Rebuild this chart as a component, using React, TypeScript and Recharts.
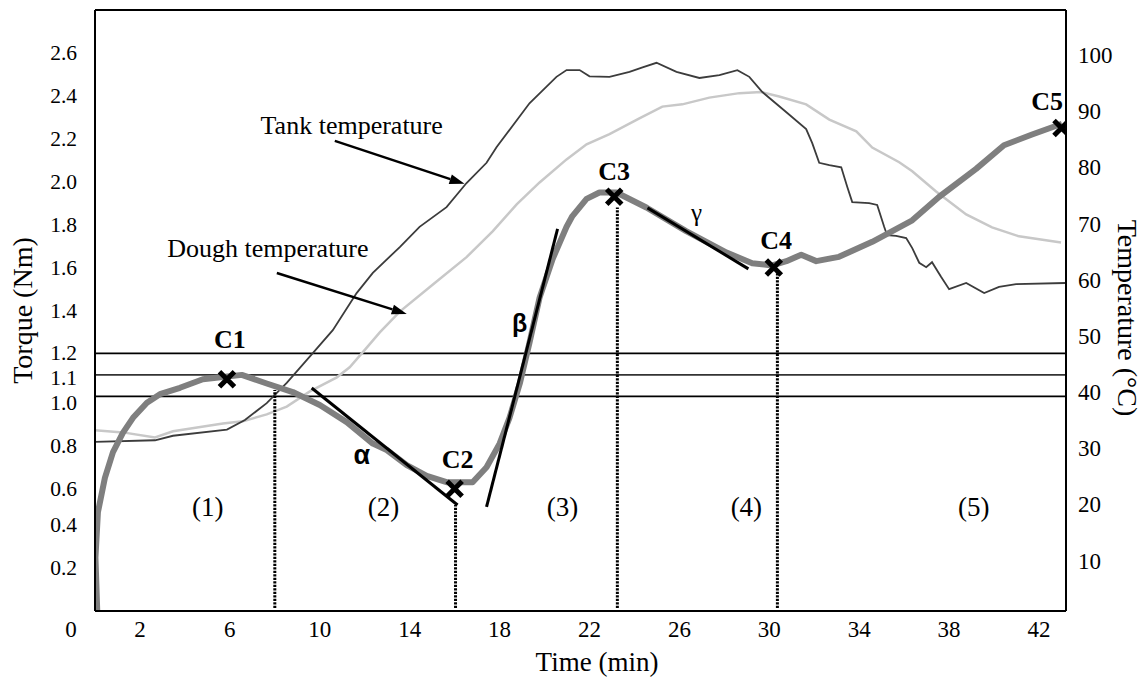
import React from "react";
import {
  ComposedChart,
  Line,
  Scatter,
  XAxis,
  YAxis,
  ReferenceLine,
  ReferenceDot,
} from "recharts";

const serif = '"Liberation Serif", "Times New Roman", serif';
const sans = '"Liberation Sans", Arial, sans-serif';

// torque curve (min, Nm)
const torqueTime = [
  0.1, 0.02, 0.13, 0.44, 0.8, 1.24, 1.69, 2.31, 2.89, 3.78, 4.8, 5.69, 6.53,
  7.64, 8.8, 10.0, 11.2, 12.36, 12.98, 13.87, 14.76, 15.64, 16.2, 16.8, 17.42,
  18.0, 18.44, 18.9, 19.33, 19.78, 20.36, 20.98, 21.24, 21.87, 22.44, 23.2,
  24.53, 26.3, 28.1, 29.24, 30.13, 30.76, 31.42, 32.09, 33.1, 34.58, 36.36,
  37.56, 39.2, 40.44, 41.69, 43.02,
];
const torqueNm = [
  0, 0.25, 0.46, 0.62, 0.74, 0.83, 0.9, 0.97, 1.01, 1.04, 1.08, 1.09, 1.1,
  1.06, 1.02, 0.96, 0.88, 0.78, 0.75, 0.68, 0.63, 0.6, 0.6, 0.6, 0.67, 0.78,
  0.9, 1.06, 1.25, 1.46, 1.64, 1.79, 1.84, 1.92, 1.95, 1.95, 1.88, 1.77, 1.67,
  1.62, 1.61, 1.63, 1.66, 1.63, 1.65, 1.72, 1.82, 1.93, 2.06, 2.17, 2.22, 2.27,
];

// tank temperature (min, °C)
const tankTime = [
  0, 2.67, 3.47, 5.87, 6.67, 7.64, 8.53, 9.69, 10.58, 11.64, 12.36, 13.56,
  14.44, 15.64, 16.53, 17.42, 17.87, 19.33, 20.53, 20.98, 21.56, 22.0, 22.89,
  23.78, 24.36, 24.98, 25.87, 26.89, 27.78, 28.58, 29.11, 29.69, 30.76, 31.64,
  31.91, 32.22, 32.67, 33.2, 33.47, 33.69, 34.44, 34.8, 35.11, 35.24, 35.64,
  36.09, 36.36, 36.67, 36.98, 37.24, 37.64, 38.0, 38.76, 39.56, 40.22, 40.98,
  43.16,
];
const tankTemp = [
  31.1, 31.4, 32.2, 33.3, 35.0, 38.0, 41.6, 46.9, 51.0, 57.6, 61.2, 65.8, 69.4,
  72.9, 77.2, 80.8, 83.6, 91.4, 96.1, 97.3, 97.3, 96.2, 96.1, 97.0, 97.8, 98.6,
  97.0, 95.9, 96.4, 97.3, 96.1, 93.4, 89.8, 86.8, 84.3, 80.8, 80.4, 80.0, 76.5,
  73.8, 73.6, 73.3, 69.4, 67.9, 67.8, 67.4, 65.6, 63.0, 62.2, 63.1, 60.5, 58.3,
  59.4, 57.6, 58.7, 59.2, 59.4,
];

// dough temperature (min, °C)
const doughTime = [
  0, 1.24, 2.67, 3.47, 5.69, 6.58, 7.64, 8.53, 9.56, 10.76, 11.33, 12.09, 12.67,
  13.56, 15.02, 16.53, 17.69, 18.76, 19.78, 20.98, 21.87, 22.89, 24.22, 25.24,
  26.13, 27.33, 28.67, 29.64, 30.44, 31.64, 32.67, 33.87, 34.58, 35.78, 36.36,
  37.42, 38.76, 39.91, 41.11, 42.98,
];
const doughTemp = [
  33.2, 32.8, 31.9, 33.0, 34.4, 34.8, 36.0, 37.4, 40.1, 42.6, 44.4, 47.9, 50.6,
  54.3, 59.1, 64.0, 68.6, 73.4, 77.3, 81.4, 84.1, 85.9, 88.7, 90.8, 91.2, 92.4,
  93.2, 93.4, 92.6, 91.2, 88.5, 86.4, 83.5, 80.9, 79.3, 75.7, 71.6, 69.3, 67.7,
  66.6,
];

// characteristic points C1..C5
const pointNames = ["C1", "C2", "C3", "C4", "C5"];
const pointTime = [5.87, 16.0, 23.1, 30.2, 43.0];
const pointTorque = [1.08, 0.57, 1.93, 1.6, 2.25];
const pointLabelTime = [6.0, 16.13, 23.1, 30.3, 42.36];
const pointLabelTorque = [1.27, 0.71, 2.05, 1.73, 2.375];

// dotted drop lines
const dropTime = [8.0, 16.04, 23.24, 30.36];
const dropTop = [1.03, 0.494, 1.88, 1.575];

// tangent lines alpha, beta, gamma
const tangentStart = [
  { x: 9.64, y: 1.039 },
  { x: 17.42, y: 0.485 },
  { x: 24.58, y: 1.878 },
];
const tangentEnd = [
  { x: 16.13, y: 0.494 },
  { x: 20.58, y: 1.78 },
  { x: 29.07, y: 1.594 },
];

const xTicks = [0, 2, 6, 10, 14, 18, 22, 26, 30, 34, 38, 42];
const torqueTicks = [0.2, 0.4, 0.6, 0.8, 1.0, 1.1, 1.2, 1.4, 1.6, 1.8, 2.0, 2.2, 2.4, 2.6];
const tempTicks = [10, 20, 30, 40, 50, 60, 70, 80, 90, 100];
const limitLines = [1.0, 1.1, 1.2];

const phaseNames = ["(1)", "(2)", "(3)", "(4)", "(5)"];
const phaseTime = [5.02, 12.84, 20.8, 28.98, 39.1];
const phaseTorque = 0.485;

const torqueData = torqueTime.map((t, i) => ({ t, torque: torqueNm[i] }));
const tankData = tankTime.map((t, i) => ({ t, temp: tankTemp[i] }));
const doughData = doughTime.map((t, i) => ({ t, temp: doughTemp[i] }));
const markerData = pointTime.map((t, i) => ({ t, torque: pointTorque[i], name: pointNames[i] }));
const markerLabelData = pointLabelTime.map((t, i) => ({ t, torque: pointLabelTorque[i], name: pointNames[i] }));

const XTick = (props: any) => {
  const { x, y, payload } = props;
  const v = payload.value;
  return (
    <text x={v === 0 ? x - 24 : x} y={y} dy="0.71em" textAnchor="middle" fontFamily={serif} fontSize={23} fill="#000">
      {v}
    </text>
  );
};

// the 1.0 / 1.1 / 1.2 labels are spread a little in the original to make room
const labelNudge: Record<string, number> = { "1.2": -1, "1.1": 2.5, "1.0": 6, "0.8": 6, "0.6": 6 };

const TorqueTick = (props: any) => {
  const { x, y, payload } = props;
  const s = Number(payload.value).toFixed(1);
  return (
    <text x={x} y={y + (labelNudge[s] || 0)} dy="0.34em" textAnchor="end" fontFamily={serif} fontSize={21.5} fill="#000">
      {s}
    </text>
  );
};

// bold "x" marker drawn as a path
const Cross = (props: any) => {
  const { cx, cy } = props;
  const s = 7.5;
  return (
    <path
      d={`M${cx - s},${cy - s}L${cx + s},${cy + s}M${cx - s},${cy + s}L${cx + s},${cy - s}`}
      stroke="#000"
      strokeWidth={5}
      fill="none"
    />
  );
};

const PointLabel = (props: any) => (
  <text x={props.cx} y={props.cy} dy="0.35em" textAnchor="middle" fontFamily={serif} fontWeight="bold" fontSize={26} fill="#000">
    {props.payload.name}
  </text>
);

const note =
  (text: string, size: number, family: string, weight = "normal") =>
  (p: any) =>
    (
      <text x={p.cx} y={p.cy} dy="0.35em" textAnchor="middle" fontFamily={family} fontWeight={weight} fontSize={size} fill="#000">
        {text}
      </text>
    );

const Arrow = (p: any) => {
  const { x1, y1, x2, y2 } = p;
  const a = Math.atan2(y2 - y1, x2 - x1);
  const L = 15;
  const W = 5;
  const bx = x2 - L * Math.cos(a);
  const by = y2 - L * Math.sin(a);
  const pts = `${x2},${y2} ${bx + W * Math.sin(a)},${by - W * Math.cos(a)} ${bx - W * Math.sin(a)},${by + W * Math.cos(a)}`;
  return (
    <g>
      <line x1={x1} y1={y1} x2={bx} y2={by} stroke="#000" strokeWidth={2.5} />
      <polygon points={pts} fill="#000" />
    </g>
  );
};

const TorqueTitle = (props: any) => {
  const vb = props.viewBox;
  const x = vb.x + 22;
  const y = vb.y + vb.height / 2;
  return (
    <text x={x} y={y} transform={`rotate(-90 ${x} ${y})`} textAnchor="middle" dominantBaseline="central" fontFamily={serif} fontSize={28} fill="#000">
      Torque (Nm)
    </text>
  );
};

const TempTitle = (props: any) => {
  const vb = props.viewBox;
  const x = vb.x + 61;
  const y = vb.y + 308;
  return (
    <text x={x} y={y} transform={`rotate(90 ${x} ${y})`} textAnchor="middle" dominantBaseline="central" fontFamily={serif} fontSize={28} fill="#000">
      Temperature (°C)
    </text>
  );
};

const TimeTitle = (props: any) => {
  const vb = props.viewBox;
  return (
    <text x={vb.x + 502} y={vb.y + 51} textAnchor="middle" dominantBaseline="central" fontFamily={serif} fontSize={27} fill="#000">
      Time (min)
    </text>
  );
};

const App = () => {
  return (
    <div style={{ position: "absolute", left: 0, top: 0, width: 1147, height: 678, background: "#fff" }}>
      <ComposedChart width={1147} height={678} margin={{ top: 10, right: 0, bottom: 0, left: 0 }}>
        <XAxis
          type="number"
          dataKey="t"
          domain={[0, 43.2]}
          allowDataOverflow
          ticks={xTicks}
          interval={0}
          tickLine={false}
          tickSize={0}
          tickMargin={10}
          height={67}
          axisLine={{ stroke: "#000", strokeWidth: 2 }}
          tick={<XTick />}
          label={TimeTitle}
        />
        <YAxis
          yAxisId="torque"
          orientation="left"
          type="number"
          domain={[0, 2.8]}
          allowDataOverflow
          ticks={torqueTicks}
          interval={0}
          width={95}
          tickLine={false}
          tickSize={0}
          tickMargin={18}
          axisLine={{ stroke: "#000", strokeWidth: 2 }}
          tick={<TorqueTick />}
          label={TorqueTitle}
        />
        <YAxis
          yAxisId="temp"
          orientation="right"
          type="number"
          domain={[1, 108]}
          allowDataOverflow
          ticks={tempTicks}
          interval={0}
          width={81}
          tickLine={false}
          tickSize={0}
          tickMargin={12}
          axisLine={{ stroke: "#000", strokeWidth: 2 }}
          tick={{ fontFamily: serif, fontSize: 23, fill: "#000" }}
          label={TempTitle}
        />

        <ReferenceLine yAxisId="torque" y={2.8} stroke="#000" strokeWidth={2} />
        {limitLines.map((v) => (
          <ReferenceLine key={v} yAxisId="torque" y={v} stroke={v === 1.1 ? "#333" : "#000"} strokeWidth={1.8} />
        ))}

        <Line data={doughData} yAxisId="temp" dataKey="temp" stroke="#c8c8c8" strokeWidth={2.5} dot={false} isAnimationActive={false} />
        <Line data={tankData} yAxisId="temp" dataKey="temp" stroke="#3c3c3c" strokeWidth={1.8} dot={false} isAnimationActive={false} />
        <Line data={torqueData} yAxisId="torque" dataKey="torque" stroke="#7f7f7f" strokeWidth={6} strokeLinejoin="round" dot={false} isAnimationActive={false} />

        {dropTime.map((t, i) => (
          <ReferenceLine
            key={`drop${i}`}
            yAxisId="torque"
            segment={[{ x: t, y: 0.014 }, { x: t, y: dropTop[i] }]}
            stroke="#000"
            strokeWidth={3}
            strokeDasharray="2.2 1.3"
          />
        ))}
        {tangentStart.map((s, i) => (
          <ReferenceLine key={`tan${i}`} yAxisId="torque" segment={[s, tangentEnd[i]]} stroke="#000" strokeWidth={3} />
        ))}

        <ReferenceLine yAxisId="torque" segment={[{ x: 10.67, y: 2.19 }, { x: 16.44, y: 1.99 }]} shape={Arrow} />
        <ReferenceLine yAxisId="torque" segment={[{ x: 8.09, y: 1.575 }, { x: 13.87, y: 1.384 }]} shape={Arrow} />
        <ReferenceDot yAxisId="torque" x={11.42} y={2.265} r={0} shape={note("Tank temperature", 26, serif)} />
        <ReferenceDot yAxisId="torque" x={7.69} y={1.69} r={0} shape={note("Dough temperature", 26, serif)} />

        {phaseNames.map((n, i) => (
          <ReferenceDot key={n} yAxisId="torque" x={phaseTime[i]} y={phaseTorque} r={0} shape={note(n, 27, serif)} />
        ))}
        <ReferenceDot yAxisId="torque" x={11.87} y={0.727} r={0} shape={note("α", 27, sans, "bold")} />
        <ReferenceDot yAxisId="torque" x={18.89} y={1.342} r={0} shape={note("β", 25, sans, "bold")} />
        <ReferenceDot yAxisId="torque" x={26.76} y={1.86} r={0} shape={note("γ", 25, serif)} />

        <Scatter data={markerData} yAxisId="torque" dataKey="torque" shape={Cross} isAnimationActive={false} />
        <Scatter data={markerLabelData} yAxisId="torque" dataKey="torque" shape={PointLabel} isAnimationActive={false} />
      </ComposedChart>
    </div>
  );
};

export default App;
